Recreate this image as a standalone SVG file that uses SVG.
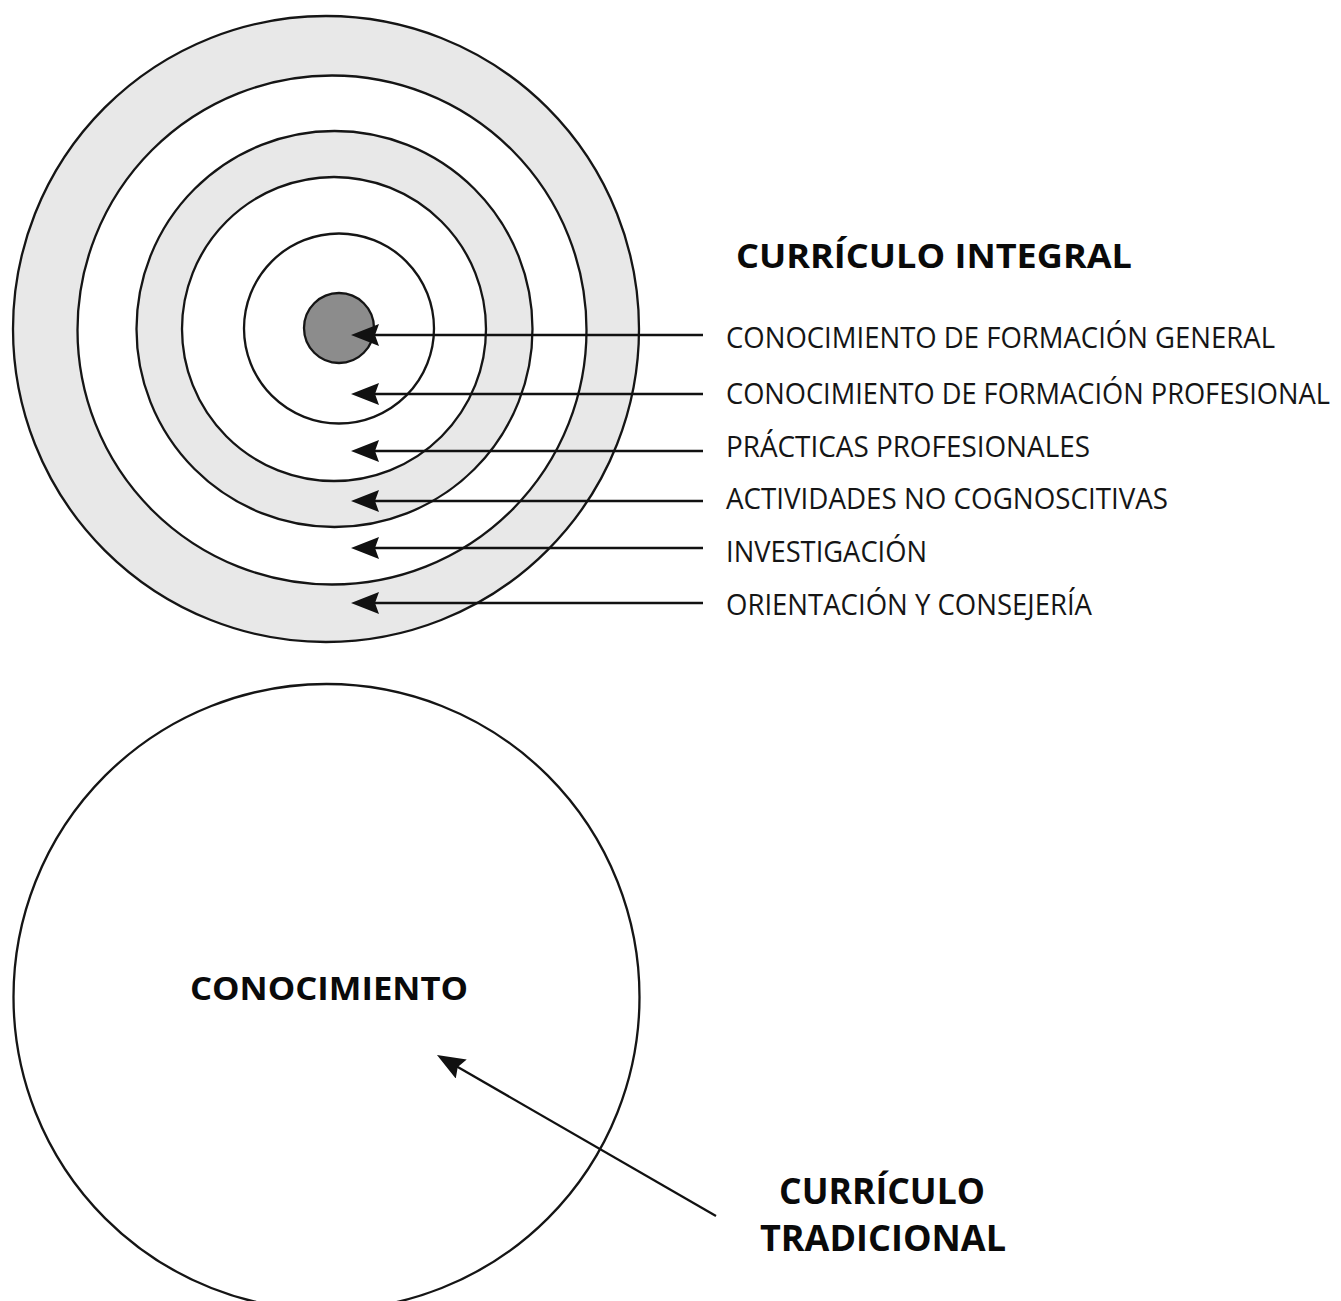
<svg xmlns="http://www.w3.org/2000/svg" width="1341" height="1301" viewBox="0 0 1341 1301">
  <style>
    .ring { stroke: #151515; stroke-width: 2.3; }
    .gray { fill: #e8e8e8; }
    .white { fill: #ffffff; }
    .core { fill: #8c8c8c; }
    .conn { stroke: #111; stroke-width: 2.3; fill: none; marker-end: url(#arrow); }
    .lbl { font-family: "Open Sans", "Noto Sans", "Liberation Sans", sans-serif; font-size: 29px; fill: #151515; }
    .bold { font-family: "Open Sans", "Noto Sans", "Liberation Sans", sans-serif; font-weight: bold; fill: #0a0a0a; }
  </style>
  <defs>
    <marker id="arrow" markerUnits="userSpaceOnUse" viewBox="0 0 28 22" refX="8" refY="11" markerWidth="28" markerHeight="22" orient="auto">
      <path d="M0,0 L28,11 L0,22 L4,11 Z" fill="#111"/>
    </marker>
  </defs>
  <rect x="0" y="0" width="1341" height="1301" fill="#ffffff"/>

  <g id="curriculo-integral">
    <circle id="ring-orientacion" class="ring gray" cx="326" cy="329" r="313"/>
    <circle id="ring-investigacion" class="ring white" cx="332" cy="330" r="254.5"/>
    <circle id="ring-actividades" class="ring gray" cx="334.5" cy="329" r="198"/>
    <circle id="ring-practicas" class="ring white" cx="334" cy="329" r="152"/>
    <circle id="ring-profesional" class="ring white" cx="339" cy="328.5" r="95"/>
    <circle id="core-general" class="ring core" cx="339" cy="328" r="35"/>
  </g>

  <g id="curriculo-tradicional">
    <circle id="circle-conocimiento" class="ring white" cx="326.5" cy="997" r="313"/>
  </g>

  <g id="connectors">
    <line class="conn" x1="703" y1="335" x2="371" y2="335"/>
    <line class="conn" x1="703" y1="394" x2="371" y2="394"/>
    <line class="conn" x1="703" y1="451" x2="371" y2="451"/>
    <line class="conn" x1="703" y1="501" x2="371" y2="501"/>
    <line class="conn" x1="703" y1="548" x2="371" y2="548"/>
    <line class="conn" x1="703" y1="603" x2="371" y2="603"/>
    <line class="conn" x1="716" y1="1216" x2="454.3" y2="1065"/>
  </g>

  <g id="labels">
    <text id="title-integral" class="bold" x="736" y="268" font-size="34" textLength="396" lengthAdjust="spacingAndGlyphs">CURRÍCULO INTEGRAL</text>
    <text id="lbl-general" class="lbl" x="726" y="348" textLength="549" lengthAdjust="spacingAndGlyphs">CONOCIMIENTO DE FORMACIÓN GENERAL</text>
    <g transform="translate(726,404) scale(0.9,1)">
      <text id="lbl-profesional" class="lbl" x="0" y="0" textLength="671" lengthAdjust="spacingAndGlyphs">CONOCIMIENTO DE FORMACIÓN PROFESIONAL</text>
    </g>
    <text id="lbl-practicas" class="lbl" x="726" y="457" textLength="364" lengthAdjust="spacingAndGlyphs">PRÁCTICAS PROFESIONALES</text>
    <text id="lbl-actividades" class="lbl" x="726" y="509" textLength="442" lengthAdjust="spacingAndGlyphs">ACTIVIDADES NO COGNOSCITIVAS</text>
    <text id="lbl-investigacion" class="lbl" x="726" y="562" textLength="201" lengthAdjust="spacingAndGlyphs">INVESTIGACIÓN</text>
    <text id="lbl-orientacion" class="lbl" x="726" y="615" textLength="366" lengthAdjust="spacingAndGlyphs">ORIENTACIÓN Y CONSEJERÍA</text>
    <text id="lbl-conocimiento" class="bold" x="190" y="1000" font-size="33" textLength="278" lengthAdjust="spacingAndGlyphs">CONOCIMIENTO</text>
    <text id="title-tradicional-1" class="bold" x="882" y="1204" font-size="35" text-anchor="middle" textLength="206" lengthAdjust="spacingAndGlyphs">CURRÍCULO</text>
    <text id="title-tradicional-2" class="bold" x="883" y="1251" font-size="35" text-anchor="middle" textLength="246" lengthAdjust="spacingAndGlyphs">TRADICIONAL</text>
  </g>
</svg>
